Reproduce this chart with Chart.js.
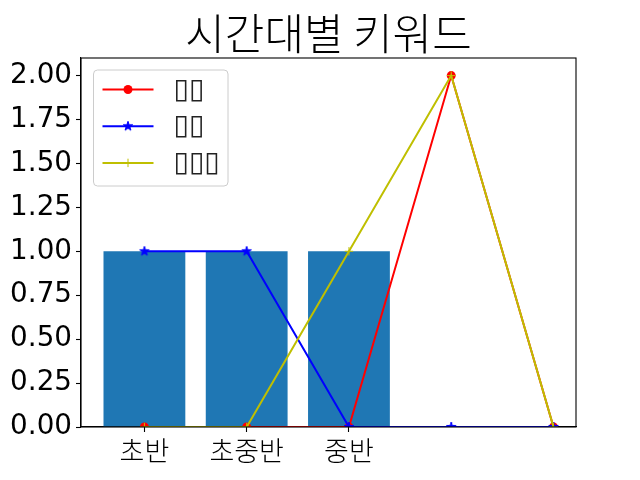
<!DOCTYPE html>
<html>
<head>
<meta charset="utf-8">
<script src="https://cdn.jsdelivr.net/npm/chart.js@4/dist/chart.umd.min.js"></script>
<style>
html,body{margin:0;padding:0;background:#fff;}
#wrap{width:640px;height:480px;}
</style>
</head>
<body>
<div id="wrap"><canvas id="c" width="640" height="480"></canvas></div>
<script>
const title = '시간대별 키워드';
const categories = ['초반', '초중반', '중반', '', ''];
const tickPositions = [0, 1, 2];
const barValues = [1, 1, 1];
const redLabel = '▯▯';
const redValues = [0, 0, 0, 2, 0];
const blueLabel = '▯▯';
const blueValues = [1, 1, 0, 0, 0];
const yellowLabel = '▯▯▯';
const yellowValues = [0, 0, 1, 2, 0];
const yTicks = [0, 0.25, 0.5, 0.75, 1, 1.25, 1.5, 1.75, 2];

function makeStar(color, r) {
  const s = Math.ceil(r * 2 + 4);
  const cv = document.createElement('canvas');
  cv.width = s; cv.height = s;
  const g = cv.getContext('2d');
  const cx = s / 2, cy = s / 2, ri = r * 0.381966;
  g.beginPath();
  for (let i = 0; i < 10; i++) {
    const rad = i % 2 === 0 ? r : ri;
    const a = -Math.PI / 2 + i * Math.PI / 5;
    const x = cx + rad * Math.cos(a), y = cy + rad * Math.sin(a);
    if (i === 0) g.moveTo(x, y); else g.lineTo(x, y);
  }
  g.closePath();
  g.fillStyle = color; g.strokeStyle = color; g.lineWidth = 1;
  g.fill(); g.stroke();
  return cv;
}
const starImg = makeStar('#0000ff', 5);

const toXY = arr => arr.map((v, i) => ({x: i, y: v}));

const framePlugin = {
  id: 'frame',
  afterDraw(chart) {
    const {ctx, chartArea: a} = chart;
    ctx.save();
    ctx.strokeStyle = '#000'; ctx.lineWidth = 1.1;
    ctx.strokeRect(a.left, a.top, a.right - a.left, a.bottom - a.top);
    // title centred over the plot area
    ctx.fillStyle = '#000';
    ctx.font = '300 43px "Noto Sans CJK KR"';
    ctx.textAlign = 'center';
    ctx.textBaseline = 'middle';
    ctx.fillText(title, (a.left + a.right) / 2, 34);
    ctx.restore();
  }
};

const legendPlugin = {
  id: 'mplLegend',
  afterDraw(chart) {
    const ctx = chart.ctx;
    const a = chart.chartArea;
    const x0 = a.left + 12.5, y0 = a.top + 12, w = 134.5, h = 116;
    ctx.save();
    ctx.beginPath();
    ctx.roundRect(x0, y0, w, h, 4);
    ctx.fillStyle = 'rgba(255,255,255,0.8)';
    ctx.fill();
    ctx.strokeStyle = '#cccccc'; ctx.lineWidth = 1;
    ctx.stroke();
    const rows = chart.data.datasets.filter(d => d.type === 'line');
    rows.forEach((d, i) => {
      const y = y0 + 19.5 + i * 36.7;
      ctx.strokeStyle = d.borderColor; ctx.lineWidth = 2;
      ctx.beginPath(); ctx.moveTo(x0 + 9, y); ctx.lineTo(x0 + 60, y); ctx.stroke();
      const mx = x0 + 34.5;
      if (d.pointStyle === 'circle') {
        ctx.fillStyle = d.borderColor;
        ctx.beginPath(); ctx.arc(mx, y, d.pointRadius, 0, Math.PI * 2); ctx.fill();
      } else if (d.pointStyle === 'cross') {
        ctx.lineWidth = 1;
        ctx.beginPath(); ctx.moveTo(mx - 4.2, y); ctx.lineTo(mx + 4.2, y);
        ctx.moveTo(mx, y - 4.2); ctx.lineTo(mx, y + 4.2); ctx.stroke();
      } else {
        ctx.drawImage(d.pointStyle, mx - d.pointStyle.width / 2, y - d.pointStyle.height / 2);
      }
      ctx.fillStyle = '#222';
      ctx.font = '28px "DejaVu Sans"';
      ctx.textBaseline = 'middle';
      ctx.textAlign = 'left';
      ctx.fillText(d.label, x0 + 80, y + 1);
    });
    ctx.restore();
  }
};

new Chart(document.getElementById('c'), {
  type: 'bar',
  data: {
    datasets: [
      {type: 'line', label: redLabel, data: toXY(redValues), borderColor: '#ff0000', backgroundColor: '#ff0000',
       borderWidth: 2, pointStyle: 'circle', pointRadius: 4.5, pointBackgroundColor: '#ff0000', pointBorderColor: '#ff0000', pointBorderWidth: 0, order: 3, tension: 0},
      {type: 'line', label: blueLabel, data: toXY(blueValues), borderColor: '#0000ff', backgroundColor: '#0000ff',
       borderWidth: 2, pointStyle: starImg, pointRadius: 5, order: 2, tension: 0},
      {type: 'line', label: yellowLabel, data: toXY(yellowValues), borderColor: '#bfbf00', backgroundColor: '#bfbf00',
       borderWidth: 2, pointStyle: 'cross', pointRadius: 4.2, pointBorderColor: '#bfbf00', pointBorderWidth: 1, order: 1, tension: 0},
      {type: 'bar', label: 'bar', data: toXY(barValues), backgroundColor: '#1f77b4', borderWidth: 0,
       barPercentage: 0.8, categoryPercentage: 1.0, order: 4}
    ]
  },
  options: {
    responsive: false,
    animation: false,
    devicePixelRatio: 1,
    layout: {padding: {left: 0, right: 64, top: 58, bottom: 0}},
    plugins: {
      legend: {display: false},
      tooltip: {enabled: false},
      title: {display: false}
    },
    scales: {
      x: {
        type: 'linear', min: -0.62, max: 4.22, offset: false,
        afterFit(s) { s.height = 53; },
        afterBuildTicks(s) { s.ticks = tickPositions.map(v => ({value: v})); },
        grid: {display: true, offset: false, drawOnChartArea: false, tickLength: 5, color: '#000', tickWidth: 1.1},
        border: {display: true, color: '#000', width: 1.1},
        ticks: {
          autoSkip: false, maxRotation: 0, padding: 3, color: '#000',
          font: {family: '"Noto Sans CJK KR"', size: 27, weight: 300, lineHeight: 1.15},
          callback: v => categories[v]
        }
      },
      y: {
        type: 'linear', min: 0, max: 2.1,
        afterFit(s) { s.width = 81; },
        afterBuildTicks(s) { s.ticks = yTicks.map(v => ({value: v})); },
        grid: {display: true, offset: false, drawOnChartArea: false, tickLength: 5, color: '#000', tickWidth: 1.1},
        border: {display: true, color: '#000', width: 1.1},
        ticks: {
          padding: 4, color: '#000',
          font: {family: '"DejaVu Sans"', size: 27.8},
          callback: v => v.toFixed(2)
        }
      }
    }
  },
  plugins: [framePlugin, legendPlugin]
});
</script>
</body>
</html>
